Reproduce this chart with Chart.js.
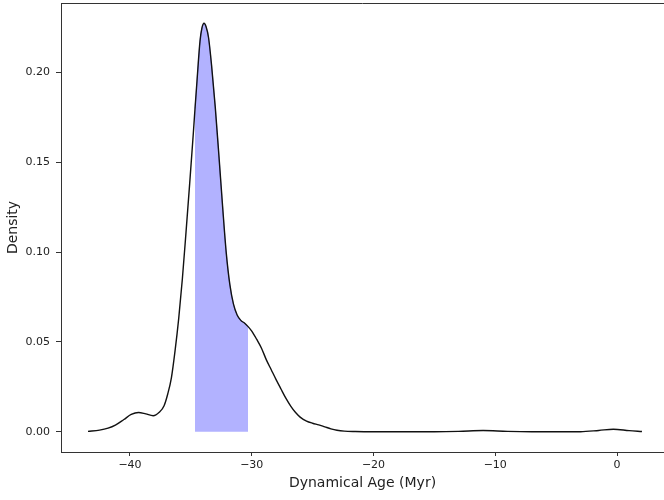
<!DOCTYPE html>
<html>
<head>
<meta charset="utf-8">
<script src="https://cdn.jsdelivr.net/npm/chart.js@4"></script>
<style>
html,body{margin:0;padding:0;background:#fff;overflow:hidden;}
#wrap{width:664px;height:500px;position:relative;}
</style>
</head>
<body>
<div id="wrap"><canvas id="c" width="664" height="500"></canvas></div>
<script>
// Dynamical age (Myr) sample positions of the density curve
const ageX = [-43.45,-42.5,-41.8,-41.2,-40.5,-39.9,-39.3,-38.7,-38.1,-37.6,-37.2,-36.9,-36.6,-36.3,-36.0,-35.7,-35.4,-35.1,-34.8,-34.66,-34.5,-34.25,-34.1,-33.92,-33.75,-33.55,-33.3,-33.0,-32.7,-32.4,-32.1,-31.8,-31.5,-31.2,-30.9,-30.6,-30.3,-30.0,-29.6,-29.2,-28.8,-28.4,-28.0,-27.6,-27.2,-26.8,-26.4,-26.0,-25.5,-25.0,-24.5,-24.0,-23.5,-23.0,-22.4,-21.5,-20,-15,-13,-11,-9,-7,-3,-1.5,-0.3,1.0,2.05];
// Density values
const densityY = [0.0002,0.0009,0.002,0.0037,0.0068,0.0096,0.0107,0.0099,0.0089,0.0108,0.0145,0.021,0.030,0.045,0.063,0.085,0.111,0.138,0.166,0.180,0.195,0.2175,0.2245,0.2274,0.2255,0.2195,0.204,0.181,0.154,0.126,0.100,0.082,0.071,0.065,0.062,0.0605,0.0585,0.0560,0.0515,0.0465,0.040,0.0345,0.029,0.0238,0.0187,0.0143,0.0107,0.0080,0.0059,0.0047,0.0038,0.0027,0.0016,0.0008,0.0003,0.0001,0.0,0.0,0.0002,0.0007,0.0002,0.0,0.0,0.0007,0.0014,0.0006,0.0001];
// Shaded interval bounds
const shadeStart = -34.66;
const shadeEnd = -30.3;
// Tick labels
const xTicks = [-40,-30,-20,-10,0];
const yTicks = [0.00,0.05,0.10,0.15,0.20];

const curve = ageX.map((x,i)=>({x:x,y:densityY[i]}));
const shade = curve.filter(p=>p.x>=shadeStart-1e-9 && p.x<=shadeEnd+1e-9);

const FONT = "'DejaVu Sans', sans-serif";
const AX = '#333';
const fmtMinus = v => (v<0 ? '\u2212'+Math.abs(v) : String(v));

const frame = {
  id:'frame',
  afterDraw(chart){
    const {ctx, chartArea:a} = chart;
    ctx.save();
    ctx.strokeStyle = AX; ctx.lineWidth = 1;
    ctx.beginPath();
    ctx.moveTo(a.left, a.top+0.5); ctx.lineTo(664, a.top+0.5);
    ctx.stroke();
    ctx.restore();
  }
};

new Chart(document.getElementById('c'), {
  type:'line',
  data:{
    datasets:[
      {data:shade, borderColor:'rgba(0,0,255,0.3)', borderWidth:1, backgroundColor:'rgba(0,0,255,0.3)', fill:'origin', pointRadius:0, cubicInterpolationMode:'monotone', order:2},
      {data:curve, borderColor:'#111', borderWidth:1.4, fill:false, pointRadius:0, cubicInterpolationMode:'monotone', order:1}
    ]
  },
  options:{
    responsive:false, animation:false, devicePixelRatio:1,
    layout:{padding:{left:0,top:3,right:0,bottom:0}},
    plugins:{legend:{display:false}, tooltip:{enabled:false}},
    scales:{
      x:{
        type:'linear', min:-45.667, max:3.86,
        afterBuildTicks(s){ s.ticks = xTicks.map(v=>({value:v})); },
        afterFit(s){ s.height = 48; s.paddingLeft = 0; s.paddingRight = 0; },
        grid:{drawOnChartArea:false, drawTicks:true, tickLength:4, tickColor:AX},
        border:{display:true, color:AX, width:1},
        ticks:{color:'#222', font:{family:FONT,size:11}, padding:3, maxRotation:0, autoSkip:false, callback:v=>fmtMinus(v)},
        title:{display:true, text:'Dynamical Age (Myr)', color:'#222', font:{family:FONT,size:14}, padding:{top:0,bottom:8}}
      },
      y:{
        type:'linear', min:-0.0113, max:0.2387,
        afterBuildTicks(s){ s.ticks = yTicks.map(v=>({value:v})); },
        afterFit(s){ s.width = 61; s.paddingTop = 0; s.paddingBottom = 0; },
        grid:{drawOnChartArea:false, drawTicks:true, tickLength:5, tickColor:AX},
        border:{display:true, color:AX, width:1},
        ticks:{color:'#222', font:{family:FONT,size:11}, padding:6, autoSkip:false, callback:v=>v.toFixed(2)},
        title:{display:true, text:'Density', color:'#222', font:{family:FONT,size:14}, padding:{top:5,bottom:0}}
      }
    }
  },
  plugins:[frame]
});
</script>
</body>
</html>
